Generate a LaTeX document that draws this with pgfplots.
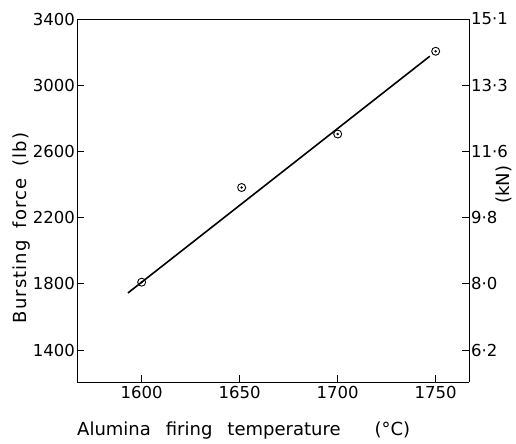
\documentclass[border=0pt]{standalone}
\usepackage{pgfplots}
\pgfplotsset{compat=1.18}
\usepackage{fontspec}
\setmainfont{DejaVu Sans}
\begin{document}
\begin{tikzpicture}
\useasboundingbox (-77bp,-62bp) rectangle (439bp,382bp);
\pgfplotsset{
  common/.style={
    scale only axis, width=392bp, height=363bp,
    at={(0,0)}, anchor=south west,
    xmin=1567, xmax=1767, ymin=1207, ymax=3400,
    tick align=inside, major tick length=7bp,
    tick style={black, line width=0.7pt},
    axis line style={black, line width=0.7pt},
    /pgf/number format/assume math mode=true,
    tick label style={font=\fontsize{16.5bp}{19bp}\selectfont},
  }
}
\begin{axis}[common,
  axis x line*=bottom, axis y line*=left,
  xtick={1600,1650,1700,1750},
  xticklabels={1600,1650,1700,1750},
  ytick={1400,1800,2200,2600,3000,3400},
  yticklabels={1400,1800,2200,2600,3000,3400},
  yticklabel style={xshift=1.5bp},
  xticklabel style={yshift=-1bp},
  clip=false,
]
% fitted line
\addplot[black, line width=1.6pt] coordinates {(1593,1745) (1747,3175)};
% data points
\addplot[only marks, mark=o, mark size=4bp, mark options={black, line width=0.9pt}]
  coordinates {(1600,1810) (1651,2382) (1700,2705) (1750,3205)};
\addplot[only marks, mark=*, mark size=1bp, mark options={black}]
  coordinates {(1600,1810) (1651,2382) (1700,2705) (1750,3205)};
\draw[black, line width=0.7pt] (rel axis cs:0,1) -- (rel axis cs:1,1);
\node[anchor=base west, font=\fontsize{18bp}{21bp}\selectfont, inner sep=0pt]
  at ([yshift=-53bp]rel axis cs:0,0)
  {Alumina\hspace{15bp}firing\hspace{15bp}temperature\hspace{34bp}(°C)};
\node[rotate=90, anchor=center, font=\fontsize{18bp}{21bp}\selectfont, inner sep=0pt]
  at ([xshift=-55bp]rel axis cs:0,0.424)
  {\addfontfeature{LetterSpace=6}Bursting\hspace{12bp}force\hspace{12bp}(lb)};
\end{axis}
\begin{axis}[common,
  axis x line=none, axis y line*=right,
  ytick={1400,1800,2200,2600,3000,3400},
  yticklabels={6·2,8·0,9·8,11·6,13·3,15·1},
  yticklabel style={xshift=-1.5bp},
  clip=false,
]
\node[rotate=90, anchor=center, font=\fontsize{18bp}{21bp}\selectfont, inner sep=0pt]
  at ([xshift=35bp]rel axis cs:1,0.543) {(kN)};
\end{axis}
\end{tikzpicture}
\end{document}
